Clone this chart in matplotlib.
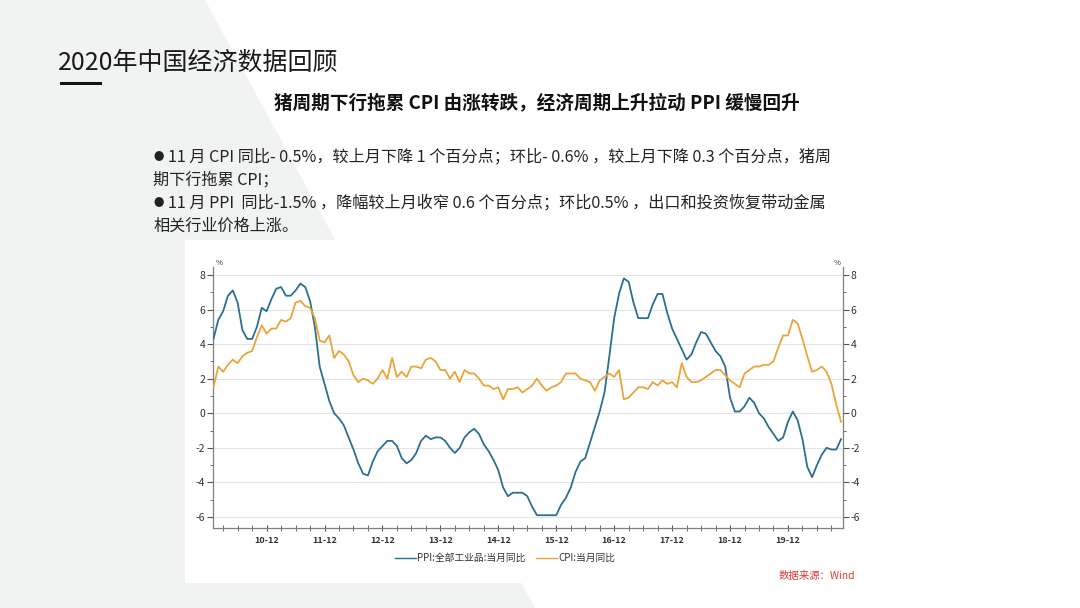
#!/usr/bin/env python3
"""
2020年中国经济数据回顾 - CPI / PPI 当月同比 (2010-01 ~ 2020-11)
"""

import matplotlib
matplotlib.use('Agg')
import matplotlib.pyplot as plt
from matplotlib.patches import Polygon, Rectangle
from matplotlib.lines import Line2D
import numpy as np

plt.rcParams['font.family'] = ['Noto Sans CJK SC', 'DejaVu Sans']
plt.rcParams['axes.unicode_minus'] = False

# Data: monthly yoy %, 2010-01 .. 2020-11
ppi = [4.3, 5.4, 5.9, 6.8, 7.1, 6.4, 4.8, 4.3, 4.3, 5.0, 6.1, 5.9,
       6.6, 7.2, 7.3, 6.8, 6.8, 7.1, 7.5, 7.3, 6.5, 5.0, 2.7, 1.7,
       0.7, 0.0, -0.3, -0.7, -1.4, -2.1, -2.9, -3.5, -3.6, -2.8, -2.2, -1.9,
       -1.6, -1.6, -1.9, -2.6, -2.9, -2.7, -2.3, -1.6, -1.3, -1.5, -1.4, -1.4,
       -1.6, -2.0, -2.3, -2.0, -1.4, -1.1, -0.9, -1.2, -1.8, -2.2, -2.7, -3.3,
       -4.3, -4.8, -4.6, -4.6, -4.6, -4.8, -5.4, -5.9, -5.9, -5.9, -5.9, -5.9,
       -5.3, -4.9, -4.3, -3.4, -2.8, -2.6, -1.7, -0.8, 0.1, 1.2, 3.3, 5.5,
       6.9, 7.8, 7.6, 6.4, 5.5, 5.5, 5.5, 6.3, 6.9, 6.9, 5.8, 4.9,
       4.3, 3.7, 3.1, 3.4, 4.1, 4.7, 4.6, 4.1, 3.6, 3.3, 2.7, 0.9,
       0.1, 0.1, 0.4, 0.9, 0.6, 0.0, -0.3, -0.8, -1.2, -1.6, -1.4, -0.5,
       0.1, -0.4, -1.5, -3.1, -3.7, -3.0, -2.4, -2.0, -2.1, -2.1, -1.5]

cpi = [1.5, 2.7, 2.4, 2.8, 3.1, 2.9, 3.3, 3.5, 3.6, 4.4, 5.1, 4.6,
       4.9, 4.9, 5.4, 5.3, 5.5, 6.4, 6.5, 6.2, 6.1, 5.5, 4.2, 4.1,
       4.5, 3.2, 3.6, 3.4, 3.0, 2.2, 1.8, 2.0, 1.9, 1.7, 2.0, 2.5,
       2.0, 3.2, 2.1, 2.4, 2.1, 2.7, 2.7, 2.6, 3.1, 3.2, 3.0, 2.5,
       2.5, 2.0, 2.4, 1.8, 2.5, 2.3, 2.3, 2.0, 1.6, 1.6, 1.4, 1.5,
       0.8, 1.4, 1.4, 1.5, 1.2, 1.4, 1.6, 2.0, 1.6, 1.3, 1.5, 1.6,
       1.8, 2.3, 2.3, 2.3, 2.0, 1.9, 1.8, 1.3, 1.9, 2.1, 2.3, 2.1,
       2.5, 0.8, 0.9, 1.2, 1.5, 1.5, 1.4, 1.8, 1.6, 1.9, 1.7, 1.8,
       1.5, 2.9, 2.1, 1.8, 1.8, 1.9, 2.1, 2.3, 2.5, 2.5, 2.2, 1.9,
       1.7, 1.5, 2.3, 2.5, 2.7, 2.7, 2.8, 2.8, 3.0, 3.8, 4.5, 4.5,
       5.4, 5.2, 4.3, 3.3, 2.4, 2.5, 2.7, 2.4, 1.7, 0.5, -0.5]

tick_labels = ['10-12', '11-12', '12-12', '13-12', '14-12',
               '15-12', '16-12', '17-12', '18-12', '19-12']
y_ticks = [-6, -4, -2, 0, 2, 4, 6, 8]

title = '2020年中国经济数据回顾'
subtitle = '猪周期下行拖累 CPI 由涨转跌，经济周期上升拉动 PPI 缓慢回升'
bullets = [
    (True, '11 月 CPI 同比- 0.5%，较上月下降 1 个百分点；环比- 0.6% ，较上月下降 0.3 个百分点，猪周'),
    (False, '期下行拖累 CPI；'),
    (True, '11 月 PPI  同比-1.5% ，降幅较上月收窄 0.6 个百分点；环比0.5% ，出口和投资恢复带动金属'),
    (False, '相关行业价格上涨。'),
]
legend_labels = ['PPI:全部工业品:当月同比', 'CPI:当月同比']
source = '数据来源：Wind'

PPI_COLOR = '#2c6f91'
CPI_COLOR = '#eba43a'

W, H = 1080, 608
fig = plt.figure(figsize=(W / 100, H / 100), dpi=100, facecolor='white')


def fx(x):
    return x / W


def fy(y):
    return 1 - y / H


# slide background: grey diagonal band on the left, white card for the chart
fig.patches.append(Polygon([(0, 1), (fx(205), 1), (fx(535), 0), (0, 0)],
                           closed=True, transform=fig.transFigure,
                           facecolor='#f1f2f2', edgecolor='none', zorder=0))
fig.patches.append(Rectangle((fx(185), fy(583)), fx(870) - fx(185), fy(240) - fy(583),
                             transform=fig.transFigure, facecolor='white',
                             edgecolor='none', zorder=0))

# header
fig.text(fx(58), fy(63), title, fontsize=18, color='#1a1a1a', va='center', ha='left')
fig.patches.append(Rectangle((fx(60), fy(85)), fx(42), 3 / H, transform=fig.transFigure,
                             facecolor='#111111', edgecolor='none'))
fig.text(fx(537), fy(103), subtitle, fontsize=13.4, fontweight='bold', color='#111111',
         va='center', ha='center')
for i, (has_dot, line) in enumerate(bullets):
    y = fy(157 + 23 * i)
    if has_dot:
        fig.text(fx(153), y, '●', fontsize=7.5, color='#222222', va='center', ha='left')
        fig.text(fx(168), y, line, fontsize=11.6, color='#222222', va='center', ha='left')
    else:
        fig.text(fx(153), y, line, fontsize=11.6, color='#222222', va='center', ha='left')

# chart
ax = fig.add_axes([fx(213), fy(528), fx(843) - fx(213), fy(267) - fy(528)])
ax.set_zorder(2)
x = np.arange(len(ppi))
ax.plot(x, ppi, color=PPI_COLOR, linewidth=1.3, zorder=3)
ax.plot(x, cpi, color=CPI_COLOR, linewidth=1.3, zorder=3)

ax.set_xlim(-0.1, 130.4)
ax.set_ylim(-6.64, 8.46)
ax.set_yticks(y_ticks)
ax.set_yticks(np.arange(-5, 9, 2), minor=True)
ax.set_xticks(np.arange(11, 131, 12))
ax.set_xticklabels(tick_labels, fontsize=6.5, fontweight='bold', color='#333333')
ax.set_xticks(np.arange(2, 131, 3), minor=True)
ax.grid(axis='y', color='#e4e4e4', linewidth=0.8, zorder=0)
ax.set_axisbelow(True)

ax.spines['top'].set_visible(False)
for side in ['left', 'right', 'bottom']:
    ax.spines[side].set_color('#7f7f7f')
    ax.spines[side].set_linewidth(0.9)

ax.tick_params(axis='x', which='both', direction='inout', color='#555555', pad=3)
ax.tick_params(axis='x', which='major', length=5)
ax.tick_params(axis='x', which='minor', length=4)
ax.tick_params(axis='y', which='major', direction='out', length=4, color='#555555',
               labelsize=7.5, labelcolor='#333333', pad=1.5,
               left=True, right=True, labelleft=True, labelright=True)
ax.tick_params(axis='y', which='minor', direction='out', length=2.5, color='#555555',
               left=True, right=True)

ax.text(0.004, 1.0, '%', transform=ax.transAxes, fontsize=5.5, color='#333333',
        ha='left', va='bottom')
ax.text(0.996, 1.0, '%', transform=ax.transAxes, fontsize=5.5, color='#333333',
        ha='right', va='bottom')

# legend below the chart
handles = [Line2D([], [], color=PPI_COLOR, linewidth=1.0),
           Line2D([], [], color=CPI_COLOR, linewidth=1.0)]
fig.legend(handles, legend_labels, loc='center', bbox_to_anchor=(fx(505), fy(558)),
           ncol=2, frameon=False, fontsize=7, handlelength=2.2, handletextpad=0.1,
           columnspacing=1.0, labelcolor='#333333')

fig.text(fx(855), fy(576), source, fontsize=7.5, color='#e03a3a', style='italic',
         ha='right', va='center')

fig.savefig('out.png', dpi=100, facecolor='white')
